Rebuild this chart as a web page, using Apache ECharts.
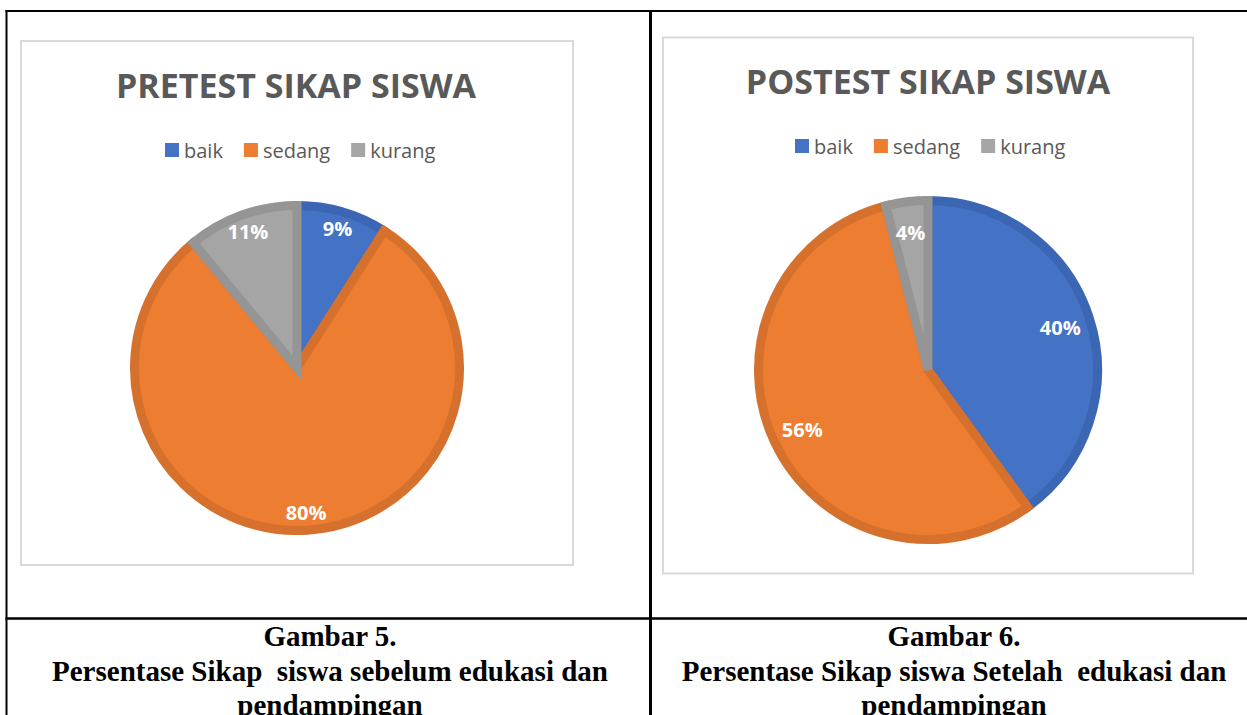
<!DOCTYPE html>
<html>
<head>
<meta charset="utf-8">
<script src="https://cdn.jsdelivr.net/npm/echarts@6/dist/echarts.min.js"></script>
<style>
  html, body { margin: 0; padding: 0; background: #ffffff; }
  #chart { width: 1247px; height: 715px; }
</style>
</head>
<body>
<div id="chart"></div>
<script>
// ---- data ----
const categories = ['baik', 'sedang', 'kurang'];
const pretestValues = [9, 80, 11];
const postestValues = [40, 56, 4];
const pretestTitle = 'PRETEST SIKAP SISWA';
const postestTitle = 'POSTEST SIKAP SISWA';
const caption5 = ['Gambar 5.', 'Persentase Sikap  siswa sebelum edukasi dan', 'pendampingan'];
const caption6 = ['Gambar 6.', 'Persentase Sikap siswa Setelah  edukasi dan', 'pendampingan'];

// ---- styles ----
const fillColors = ['#4472C4', '#ED7D31', '#A5A5A5'];
const borderColors = ['#3B66B3', '#D5712D', '#959595'];
const textGray = '#595959';

function mainData(values) {
  return categories.map((c, i) => ({
    name: c, value: values[i],
    itemStyle: { color: fillColors[i], borderColor: borderColors[i] }
  }));
}
function labelData(values) {
  return categories.map((c, i) => ({ name: c, value: values[i] }));
}

function pieSeries(values, center, r, labelR) {
  return [
    {
      type: 'pie', center: center, radius: [0, r], startAngle: 90, clockwise: true,
      avoidLabelOverlap: false, silent: true, animation: false,
      itemStyle: { borderWidth: 9, borderJoin: 'miter' },
      label: { show: false }, labelLine: { show: false },
      data: mainData(values)
    },
    {
      type: 'pie', center: center, radius: [2 * labelR - r, r], startAngle: 90, clockwise: true,
      avoidLabelOverlap: false, silent: true, animation: false,
      itemStyle: { color: 'rgba(0,0,0,0)', borderWidth: 0 },
      label: {
        show: true, position: 'inside', formatter: '{c}%',
        color: '#ffffff', fontFamily: 'Open Sans', fontWeight: 'bold', fontSize: 20
      },
      labelLine: { show: false },
      data: labelData(values)
    }
  ];
}

function legendAt(left, top) {
  return {
    left: left, top: top, orient: 'horizontal',
    data: categories, icon: 'rect', itemWidth: 14, itemHeight: 14, itemGap: 21,
    selectedMode: false,
    itemStyle: { borderWidth: 0 },
    textStyle: { fontFamily: 'Open Sans', fontSize: 20, color: textGray }
  };
}

function textEl(text, x, y, font, color) {
  return { type: 'text', x: x, y: y, silent: true,
    style: { text: text, font: font, fill: color, textAlign: 'center', textVerticalAlign: 'middle' } };
}
function lineEl(x1, y1, x2, y2, w) {
  return { type: 'line', silent: true, shape: { x1: x1, y1: y1, x2: x2, y2: y2 },
    style: { stroke: '#000000', lineWidth: w } };
}

const titleFont = 'bold 34px "Open Sans"';
const capFont = 'bold 29px "Liberation Serif"';

const graphics = [
  // table lines
  lineEl(5.5, 11, 1247, 11, 2),
  lineEl(6.5, 10, 6.5, 715, 2),
  lineEl(650.5, 10, 650.5, 715, 3),
  lineEl(5.5, 618.5, 1247, 618.5, 2.5),
  // chart boxes
  { type: 'rect', silent: true, shape: { x: 21, y: 41, width: 552, height: 524 },
    style: { fill: 'none', stroke: '#D9D9D9', lineWidth: 2 } },
  { type: 'rect', silent: true, shape: { x: 663, y: 37.5, width: 530, height: 536 },
    style: { fill: 'none', stroke: '#D9D9D9', lineWidth: 2 } },
  // titles
  textEl(pretestTitle, 296, 85, titleFont, textGray),
  textEl(postestTitle, 928, 81, titleFont, textGray),
];
[636, 671, 705].forEach((y, i) => {
  graphics.push(textEl(caption5[i], 330, y, capFont, '#000000'));
  graphics.push(textEl(caption6[i], 954, y, capFont, '#000000'));
});

const chart = echarts.init(document.getElementById('chart'), null, { renderer: 'svg' });
chart.setOption({
  backgroundColor: '#ffffff',
  animation: false,
  legend: [legendAt(160, 135), legendAt(790, 131)],
  graphic: graphics,
  series: [].concat(
    pieSeries(pretestValues, [297, 368], 162.5, 142),
    pieSeries(postestValues, [928, 370], 169.5, 136)
  )
});
</script>
</body>
</html>
